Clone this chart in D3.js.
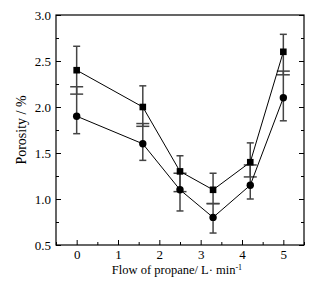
<!DOCTYPE html>
<html>
<head>
<meta charset="utf-8">
<script src="https://d3js.org/d3.v7.min.js"></script>
<style>
  body { margin: 0; background: #fff; }
  text { font-family: "Liberation Serif", "Times New Roman", serif; fill: #000; }
</style>
</head>
<body>
<div id="chart"></div>
<script>
// flow of propane (L/min)
var flow = [0, 1.6, 2.5, 3.3, 4.2, 5];

// square series
var sqVal = [2.4, 2.0, 1.3, 1.1, 1.4, 2.6];
var sqHi  = [2.66, 2.23, 1.47, 1.28, 1.61, 2.79];
var sqLo  = [2.14, 1.79, 1.08, 0.95, 1.24, 2.35];

// circle series
var ciVal = [1.9, 1.6, 1.1, 0.8, 1.15, 2.1];
var ciHi  = [2.22, 1.82, 1.28, 0.95, 1.37, 2.39];
var ciLo  = [1.71, 1.42, 0.87, 0.63, 1.0, 1.85];

var xTicks = [0, 1, 2, 3, 4, 5];
var yTicks = [0.5, 1.0, 1.5, 2.0, 2.5, 3.0];

var margin = {top: 15, right: 19, bottom: 43, left: 56},
    width = 323 - margin.left - margin.right,
    height = 288 - margin.top - margin.bottom;

var svg = d3.select("#chart")
  .append("svg")
    .attr("width", 323)
    .attr("height", 288)
  .append("g")
    .attr("transform", "translate(" + margin.left + "," + margin.top + ")");

var x = d3.scaleLinear().domain([-0.5, 5.5]).range([0, width]);
var y = d3.scaleLinear().domain([0.5, 3.0]).range([height, 0]);

// minor ticks
var xMinor = d3.range(-0.5, 5.51, 0.5).filter(function(d) { return d % 1 !== 0; });
var yMinor = d3.range(0.75, 3.0, 0.5);

function styleAxis(g) {
  g.select(".domain").remove();
  g.selectAll(".tick line").attr("stroke", "#000").attr("stroke-width", 1);
}

// bottom axis
svg.append("g")
  .attr("transform", "translate(0," + height + ")")
  .call(d3.axisBottom(x).tickValues(xTicks).tickFormat(d3.format("d")).tickSizeInner(-5).tickSizeOuter(0).tickPadding(5))
  .call(styleAxis)
  .selectAll("text").style("font-size", "13px");
svg.append("g")
  .attr("transform", "translate(0," + height + ")")
  .call(d3.axisBottom(x).tickValues(xMinor).tickFormat("").tickSizeInner(-3).tickSizeOuter(0))
  .call(styleAxis);

// left axis
svg.append("g")
  .call(d3.axisLeft(y).tickValues(yTicks).tickFormat(d3.format(".1f")).tickSizeInner(-5).tickSizeOuter(0).tickPadding(5))
  .call(styleAxis)
  .selectAll("text").style("font-size", "13px");
svg.append("g")
  .call(d3.axisLeft(y).tickValues(yMinor).tickFormat("").tickSizeInner(-3).tickSizeOuter(0))
  .call(styleAxis);

// right axis
svg.append("g")
  .attr("transform", "translate(" + width + ",0)")
  .call(d3.axisRight(y).tickValues(yTicks).tickFormat("").tickSizeInner(-5).tickSizeOuter(0))
  .call(styleAxis);
svg.append("g")
  .attr("transform", "translate(" + width + ",0)")
  .call(d3.axisRight(y).tickValues(yMinor).tickFormat("").tickSizeInner(-3).tickSizeOuter(0))
  .call(styleAxis);

// frame
svg.append("rect")
  .attr("width", width)
  .attr("height", height)
  .attr("fill", "none")
  .attr("stroke", "#000")
  .attr("stroke-width", 1.2);

// error bars
var ebColor = "#444";
function errorBars(vals, hi, lo, hiW, loW) {
  var g = svg.append("g");
  flow.forEach(function(f, i) {
    var cx = x(f);
    g.append("line")
      .attr("x1", cx).attr("x2", cx)
      .attr("y1", y(hi[i])).attr("y2", y(lo[i]))
      .attr("stroke", ebColor).attr("stroke-width", 1.5);
    g.append("line")
      .attr("x1", cx - hiW / 2).attr("x2", cx + hiW / 2)
      .attr("y1", y(hi[i])).attr("y2", y(hi[i]))
      .attr("stroke", ebColor).attr("stroke-width", 1.5);
    g.append("line")
      .attr("x1", cx - loW / 2).attr("x2", cx + loW / 2)
      .attr("y1", y(lo[i])).attr("y2", y(lo[i]))
      .attr("stroke", ebColor).attr("stroke-width", 1.5);
  });
}
errorBars(sqVal, sqHi, sqLo, 7, 13);
errorBars(ciVal, ciHi, ciLo, 13, 7);

// lines
var line = d3.line()
  .x(function(d, i) { return x(flow[i]); })
  .y(function(d) { return y(d); });

[sqVal, ciVal].forEach(function(vals) {
  svg.append("path")
    .attr("d", line(vals))
    .attr("fill", "none")
    .attr("stroke", "#000")
    .attr("stroke-width", 1);
});

// markers
svg.selectAll("rect.sq")
  .data(sqVal)
  .enter()
  .append("rect")
    .attr("class", "sq")
    .attr("x", function(d, i) { return x(flow[i]) - 3.3; })
    .attr("y", function(d) { return y(d) - 3.3; })
    .attr("width", 6.6)
    .attr("height", 6.6)
    .attr("fill", "#000");

svg.selectAll("circle.ci")
  .data(ciVal)
  .enter()
  .append("circle")
    .attr("class", "ci")
    .attr("cx", function(d, i) { return x(flow[i]); })
    .attr("cy", function(d) { return y(d); })
    .attr("r", 3.7)
    .attr("fill", "#000");

// axis titles
var xt = svg.append("text")
  .attr("x", width / 2 - 3)
  .attr("y", height + 29)
  .attr("text-anchor", "middle")
  .style("font-size", "12.5px");
xt.append("tspan").text("Flow of propane/ L· min");
xt.append("tspan").attr("dy", -4).style("font-size", "8px").text("-1");

svg.append("text")
  .attr("transform", "translate(" + (-30) + "," + (height / 2) + ") rotate(-90)")
  .attr("text-anchor", "middle")
  .style("font-size", "14px")
  .text("Porosity / %");
</script>
</body>
</html>
